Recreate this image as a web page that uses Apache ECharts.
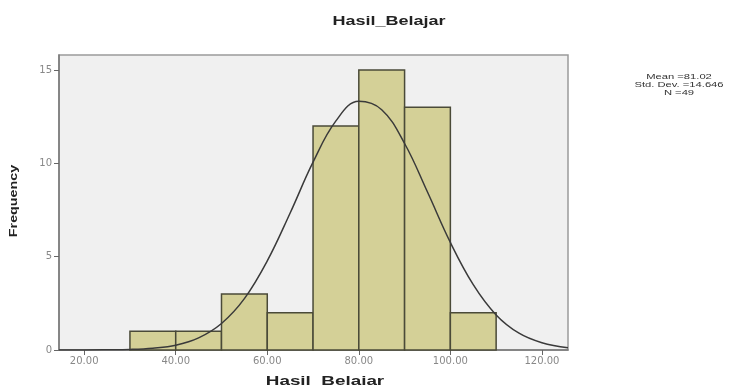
<!DOCTYPE html>
<html>
<head>
<meta charset="utf-8">
<script src="https://cdn.jsdelivr.net/npm/echarts@6/dist/echarts.min.js"></script>
<style>
  html, body { margin: 0; padding: 0; background: #fff; }
  #chart { width: 740px; height: 385px; }
</style>
</head>
<body>
<div id="chart"></div>
<script>
// histogram bins (lower edge, upper edge) and counts
const binLow = [30, 40, 50, 60, 70, 80, 90, 100];
const binHigh = [40, 50, 60, 70, 80, 90, 100, 110];
const counts = [1, 1, 3, 2, 12, 15, 13, 2];

// normal curve
const curveX = [14.5, 20, 25, 30, 35, 40, 45, 50, 55, 60, 65, 70, 75, 80, 85, 90, 95, 100, 105, 110, 115, 120, 125.7];
const curveY = [0.0, 0.0, 0.01, 0.03, 0.1, 0.26, 0.65, 1.42, 2.75, 4.77, 7.34, 10.06, 12.27, 13.32, 12.87, 11.06, 8.46, 5.76, 3.5, 1.88, 0.9, 0.39, 0.12];

const xTicks = [20, 40, 60, 80, 100, 120];
const yTicks = [0, 5, 10, 15];
const statLines = ["Mean =81.02", "Std. Dev. =14.646", "N =49"];

const chart = echarts.init(document.getElementById("chart"), null, { renderer: "canvas" });

const histData = binLow.map((lo, i) => [lo, binHigh[i], counts[i]]);
const curveData = curveX.map((x, i) => [x, curveY[i]]);

const option = {
  animation: false,
  backgroundColor: "#fff",
  grid: {
    left: 59,
    right: 172,
    top: 55,
    bottom: 35,
    show: true,
    backgroundColor: "#f0f0f0",
    borderColor: "#9a9a9a",
    borderWidth: 1.5,
  },
  xAxis: {
    type: "value",
    min: 14.5,
    max: 125.7,
    splitLine: { show: false },
    axisLine: { lineStyle: { color: "#777", width: 1.5 } },
    axisTick: { show: true, length: 5, customValues: xTicks, lineStyle: { color: "#666" } },
    axisLabel: {
      customValues: xTicks,
      color: "#888",
      fontFamily: "DejaVu Sans",
      fontSize: 10,
      margin: 6,
      formatter: (v) => v.toFixed(2),
    },
  },
  yAxis: {
    type: "value",
    min: 0,
    max: 15.8,
    splitLine: { show: false },
    axisLine: { show: true, lineStyle: { color: "#777", width: 1.5 } },
    axisTick: { show: true, length: 5, customValues: yTicks, lineStyle: { color: "#666" } },
    axisLabel: {
      customValues: yTicks,
      color: "#888",
      fontFamily: "DejaVu Sans",
      fontSize: 10,
      margin: 7,
    },
  },
  series: [
    {
      type: "custom",
      data: histData,
      encode: { x: [0, 1], y: 2 },
      renderItem: function (params, api) {
        const p0 = api.coord([api.value(0), 0]);
        const p1 = api.coord([api.value(1), api.value(2)]);
        return {
          type: "rect",
          shape: { x: p0[0], y: p1[1], width: p1[0] - p0[0], height: p0[1] - p1[1] },
          style: { fill: "#d4d097", stroke: "#4a4a38", lineWidth: 1.5 },
        };
      },
      z: 2,
    },
    {
      type: "line",
      data: curveData,
      smooth: 0.4,
      symbol: "none",
      lineStyle: { color: "#3a3a3a", width: 1.5 },
      z: 3,
    },
  ],
  graphic: [
    {
      type: "text",
      x: 389,
      y: 22,
      scaleX: 1.5,
      style: {
        text: "Hasil_Belajar",
        font: "bold 12px 'Liberation Sans'",
        fill: "#222",
        textAlign: "center",
        textVerticalAlign: "middle",
      },
    },
    {
      type: "text",
      x: 325,
      y: 381,
      scaleX: 1.45,
      style: {
        text: "Hasil_Belajar",
        font: "bold 13px 'Liberation Sans'",
        fill: "#222",
        textAlign: "center",
        textVerticalAlign: "middle",
      },
    },
    {
      type: "text",
      x: 14,
      y: 201,
      rotation: Math.PI / 2,
      scaleX: 1.3,
      style: {
        text: "Frequency",
        font: "bold 11px 'Liberation Sans'",
        fill: "#222",
        textAlign: "center",
        textVerticalAlign: "middle",
      },
    },
    {
      type: "text",
      x: 679,
      y: 73,
      scaleX: 1.4,
      style: {
        text: statLines.join("\n"),
        font: "8px 'Liberation Sans'",
        lineHeight: 8,
        fill: "#333",
        textAlign: "center",
        textVerticalAlign: "top",
      },
    },
  ],
};

chart.setOption(option);
</script>
</body>
</html>
